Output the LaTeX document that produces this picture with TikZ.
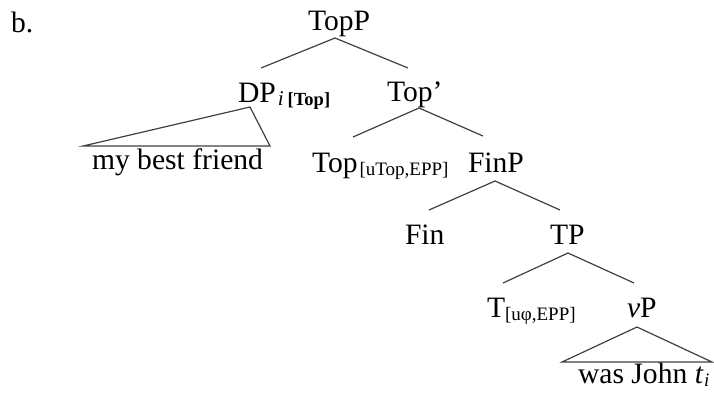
\documentclass[tikz,border=0pt]{standalone}
\usepackage{fontspec}
\setmainfont{Liberation Serif}
\newcommand{\bigsz}{\fontsize{29.6}{32}\selectfont}
\newcommand{\subsz}{\fontsize{19}{20}\selectfont}
\newcommand{\lowsub}[1]{\raisebox{-3pt}{\subsz #1}}
\begin{document}
\begin{tikzpicture}[x=1pt,y=-1pt,
  lab/.style={anchor=base west,inner sep=0pt,outer sep=0pt,font=\bigsz,text=black},
  branch/.style={draw=black!75,line width=1.2pt,line join=miter}]
\useasboundingbox (0,0) rectangle (714,392);
% labels
\node[lab] (ex) at (11,32) {b.};
\node[lab] (TopP) at (308,30) {TopP};
\node[lab] (DP) at (238,102) {DP\kern2pt\raisebox{-3pt}{\fontsize{21}{20}\selectfont\itshape i}\kern4pt\raisebox{-3pt}{\fontsize{18.5}{20}\selectfont\bfseries [Top]}};
\node[lab] (Topbar) at (387,101) {Top’};
\node[lab] (friend) at (92,169) {my best friend};
\node[lab] (Top) at (312,172) {Top\kern2pt\lowsub{[uTop,EPP]}};
\node[lab] (FinP) at (468,172) {FinP};
\node[lab] (Fin) at (405,244) {Fin};
\node[lab] (TP) at (550,244) {TP};
\node[lab] (T) at (487,317) {T\lowsub{[uφ,EPP]}};
\node[lab] (vP) at (627,317) {\textit{v}P};
\node[lab] (john) at (578,383) {was John \textit{t}\kern0.5pt\lowsub{\textit{i}}};
% branch points
\coordinate (TopP-a) at (335,38);
\coordinate (DP-t) at (261,68);
\coordinate (Topbar-t) at (408,68);
\coordinate (DP-a) at (250,107);
\coordinate (friend-l) at (83,146);
\coordinate (friend-r) at (270,146);
\coordinate (Topbar-a) at (419,108);
\coordinate (Top-t) at (353,137);
\coordinate (FinP-t) at (483,136);
\coordinate (FinP-a) at (495,181);
\coordinate (Fin-t) at (429,210);
\coordinate (TP-t) at (560,210);
\coordinate (TP-a) at (568,253);
\coordinate (T-t) at (503,283);
\coordinate (vP-t) at (634,283);
\coordinate (vP-a) at (637,327);
\coordinate (john-l) at (562,362);
\coordinate (john-r) at (712,362);
% branches
\draw[branch] (DP-t) -- (TopP-a) -- (Topbar-t);
\draw[branch] (DP-a) -- (friend-l) -- (friend-r) -- cycle;
\draw[branch] (Top-t) -- (Topbar-a) -- (FinP-t);
\draw[branch] (Fin-t) -- (FinP-a) -- (TP-t);
\draw[branch] (T-t) -- (TP-a) -- (vP-t);
\draw[branch] (vP-a) -- (john-l) -- (john-r) -- cycle;
\end{tikzpicture}
\end{document}
